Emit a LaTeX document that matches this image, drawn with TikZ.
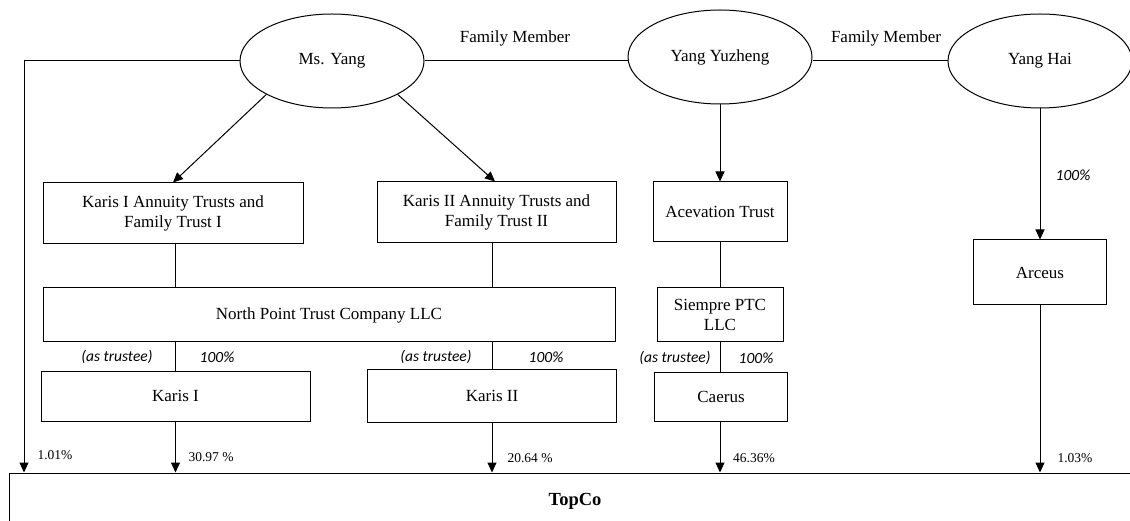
\documentclass[tikz,border=0pt]{standalone}
\usepackage{fontspec}
\setmainfont{Liberation Serif}
\newfontfamily\carlito{Carlito}
\usetikzlibrary{shapes.geometric,arrows.meta}
\newcommand\mainsz{\fontsize{17}{20}\selectfont}
\newcommand\pctsz{\fontsize{13.5}{15}\selectfont}
\newcommand\rolesz{\fontsize{15.5}{17}\selectfont}
\tikzset{
 person/.style={ellipse, draw, line width=1pt, minimum width=184pt, minimum height=94pt, inner sep=0pt, font=\mainsz},
 entity/.style={rectangle, draw, line width=1pt, inner sep=0pt, align=center, font=\mainsz},
 link/.style={line width=1pt},
 arr/.style={line width=1pt, -{Triangle[length=10pt,width=9pt]}},
 pct/.style={font=\pctsz, inner sep=0pt},
 role/.style={font=\carlito\itshape\rolesz, inner sep=0pt},
 rel/.style={font=\mainsz, inner sep=0pt},
}
\begin{document}
\begin{tikzpicture}[x=1pt,y=-1pt]
\useasboundingbox (0,0) rectangle (1130,521);
\clip (0,0) rectangle (1130,521);
\fill[white] (0,0) rectangle (1130,521);
% people
\node[person] (msyang) at (332,61) {Ms. Yang};
\node[person] (yuzheng) at (720,57) {Yang Yuzheng};
\node[person] (yanghai) at (1040,61) {Yang Hai};
% entities
\node[entity, minimum width=260pt, minimum height=61pt] (k1at) at (173,213.5) {Karis I Annuity Trusts and\\Family Trust I};
\node[entity, minimum width=239pt, minimum height=61pt] (k2at) at (496.5,212.5) {Karis II Annuity Trusts and\\Family Trust II};
\node[entity, minimum width=134pt, minimum height=60pt] (acev) at (720,212) {Acevation Trust};
\node[entity, minimum width=572pt, minimum height=54pt] (np) at (329,315) {North Point Trust Company LLC};
\node[entity, minimum width=126pt, minimum height=54pt] (siempre) at (720,315) {Siempre PTC\\LLC};
\node[entity, minimum width=133pt, minimum height=65pt] (arceus) at (1040,272.5) {Arceus};
\node[entity, minimum width=269pt, minimum height=50pt] (karis1) at (175.5,396) {Karis I};
\node[entity, minimum width=249pt, minimum height=53pt] (karis2) at (492,395.5) {Karis II};
\node[entity, minimum width=133pt, minimum height=49pt] (caerus) at (721,396.5) {Caerus};
\node[entity, minimum width=1132pt, minimum height=56pt, font=\fontsize{18.5}{20}\selectfont\bfseries] (topco) at (575,501) {TopCo};
% family lines
\draw[link] (msyang.east) -- (msyang.east -| yuzheng.west);
\draw[link] (yanghai.west) -- (yanghai.west -| yuzheng.east);
\node[rel] (fm1) at (515,38) {Family Member};
\node[rel] (fm2) at (886,38) {Family Member};
% Ms. Yang
\coordinate (lc) at (24,61);
\draw[arr] (msyang.west) -- (lc) -- (lc |- topco.north);
\draw[arr] (msyang.207.6) -- (k1at.north);
\draw[arr] (msyang.333.1) -- ([xshift=-1.5pt]k2at.north);
% trust chains
\draw[link] (k1at.south -| karis1.north) -- (np.north -| karis1.north);
\draw[link] (k2at.south -| karis2.north) -- (np.north -| karis2.north);
\draw[link] (np.south -| karis1.north) -- (karis1.north);
\draw[link] (np.south -| karis2.north) -- (karis2.north);
\draw[arr] (yuzheng.south -| acev.north) -- (acev.north);
\draw[link] (acev.south) -- (siempre.north);
\draw[link] (siempre.south) -- (siempre.south |- caerus.north);
\draw[arr] (yanghai.south) -- (arceus.north);
% to TopCo
\draw[arr] (karis1.south) -- (karis1.south |- topco.north);
\draw[arr] (karis2.south) -- (karis2.south |- topco.north);
\draw[arr] (caerus.south -| siempre.south) -- (siempre.south |- topco.north);
\draw[arr] (arceus.south) -- (arceus.south |- topco.north);
% role labels
\node[role] (r1) at (117,357) {(as trustee)};
\node[role] (p1) at (217,357) {100\%};
\node[role] (r2) at (436,357) {(as trustee)};
\node[role] (p2) at (546,357) {100\%};
\node[role] (r3) at (675,358) {(as trustee)};
\node[role] (p3) at (756,358) {100\%};
\node[role] (p4) at (1073,175) {100\%};
% percentages
\node[pct] (q1) at (55,455) {1.01\%};
\node[pct] (q2) at (211,457) {30.97 \%};
\node[pct] (q3) at (530,458) {20.64 \%};
\node[pct] (q4) at (754,458) {46.36\%};
\node[pct] (q5) at (1075,458) {1.03\%};
\end{tikzpicture}
\end{document}
